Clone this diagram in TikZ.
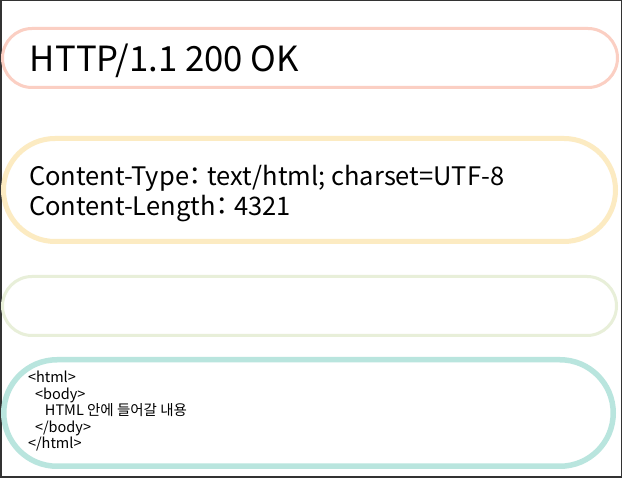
\documentclass[tikz,border=0pt]{standalone}
\usepackage{fontspec}
\setmainfont{Noto Sans CJK KR}
\newcommand{\pcolon}{{\addfontfeatures{RawFeature=+palt}：}}
\definecolor{fr}{HTML}{333333}
\definecolor{c1}{HTML}{FBCFC3}
\definecolor{c2}{HTML}{FCEBC2}
\definecolor{c3}{HTML}{E8EFD9}
\definecolor{c4}{HTML}{B9E5DE}
\tikzset{
  stad/.style={draw, rectangle, inner sep=0pt, outer sep=0pt},
  txt/.style={anchor=base west, inner sep=0pt, outer sep=0pt, text=black},
  code/.style={txt, font=\fontsize{14.5}{17}\selectfont}
}
\begin{document}
\begin{tikzpicture}[x=1pt,y=-1pt]
\useasboundingbox (0,0) rectangle (622,478);
\fill[white] (0,0) rectangle (622,478);
\draw[fr, line width=1.5pt] (0.75,0.75) rectangle (621.25,477.25);
% box 1
\node[stad, c1, line width=3pt, minimum width=615pt, minimum height=59pt, rounded corners=29.5pt] (b1) at (310,58) {};
% box 2
\node[stad, c2, line width=5pt, minimum width=612pt, minimum height=103pt, rounded corners=51.5pt] (b2) at (309.5,190) {};
% box 3
\node[stad, c3, line width=3pt, minimum width=614pt, minimum height=59pt, rounded corners=29.5pt] (b3) at (309.5,306) {};
% box 4
\node[stad, c4, line width=5.5pt, minimum width=609.5pt, minimum height=106.5pt, rounded corners=53.25pt] (b4) at (308.5,413) {};
% texts
\node[txt, font=\fontsize{34.7}{40}\selectfont] (t1) at (30,72) {HTTP/1.1 200 OK};
\node[txt, font=\fontsize{25.5}{30}\selectfont] (t2a) at (29,186) {Content-Type\pcolon{} text/html; charset=UTF-8};
\node[txt, font=\fontsize{25.5}{30}\selectfont] (t2b) at (29,216) {Content-Length\pcolon{} 4321};
\node[code] (t4a) at (28,383) {<html>};
\node[code] (t4b) at (35,399.5) {<body>};
\node[code] (t4c) at (45,416) {HTML 안에 들어갈 내용};
\node[code] (t4d) at (35,432.5) {</body>};
\node[code] (t4e) at (28,449) {</html>};
\end{tikzpicture}
\end{document}
